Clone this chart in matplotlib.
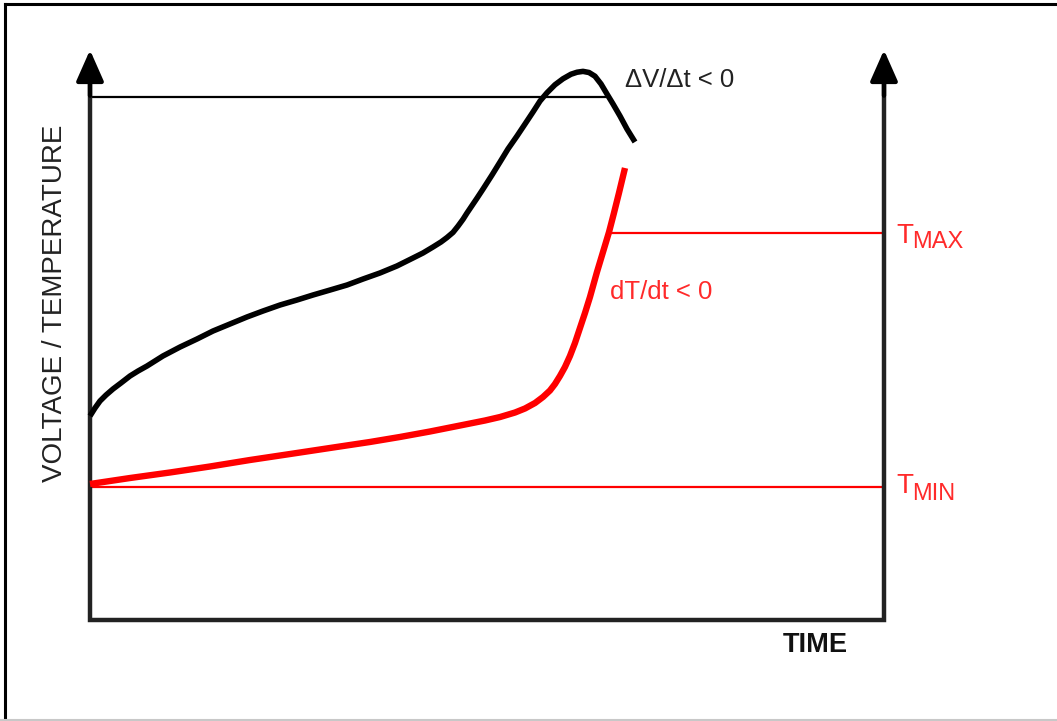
import matplotlib
matplotlib.use("Agg")
import matplotlib.pyplot as plt
from matplotlib.lines import Line2D

plt.rcParams['font.family'] = ['Liberation Sans', 'DejaVu Sans']

# ---- data (time units 0..100 across the axis, value units 0..100 up to arrow tip) ----
voltage_t = [0, 0.63, 1.26, 2.02, 2.90, 3.90, 5.04, 6.05, 7.18, 9.19, 11.34, 13.48,
             15.49, 17.63, 19.77, 21.79, 23.93, 26.07, 28.09, 30.23, 32.37, 34.38,
             36.52, 38.66, 40.68, 41.94, 43.20, 44.21, 44.96, 45.72, 46.35, 46.98,
             47.48, 48.11, 48.74, 49.50, 50.63, 51.64, 52.64, 53.78, 54.79, 55.79,
             56.68, 57.56, 58.56, 59.57, 60.58, 61.34, 62.09, 62.85, 63.60, 64.36,
             65.11, 65.87, 66.75, 67.63, 68.64]
voltage_v = [35.79, 37.19, 38.42, 39.47, 40.53, 41.58, 42.81, 43.68, 44.56, 46.32,
             47.89, 49.30, 50.70, 51.93, 53.16, 54.21, 55.26, 56.14, 57.02, 57.89,
             58.77, 59.82, 60.88, 62.11, 63.51, 64.39, 65.44, 66.32, 67.10, 68.00,
             69.10, 70.30, 71.40, 72.70, 74.00, 75.61, 78.07, 80.35, 82.63, 84.91,
             87.02, 89.12, 91.05, 92.50, 93.90, 94.95, 95.75, 96.10, 96.25, 96.05,
             95.40, 94.04, 92.28, 90.53, 88.42, 86.14, 83.86]

temp_t = [0, 5.04, 10.08, 15.11, 20.15, 25.19, 30.23, 35.26, 39.04, 42.82, 46.60,
          49.75, 51.64, 53.53, 54.79, 56.05, 57.05, 57.93, 58.56, 59.19, 59.82,
          60.45, 61.08, 61.71, 62.34, 62.97, 63.85, 64.61, 65.37, 65.99, 66.62, 67.38]
temp_v = [23.86, 24.91, 25.88, 26.93, 28.07, 29.12, 30.18, 31.23, 32.11, 33.07, 34.12,
          35.00, 35.61, 36.40, 37.11, 38.07, 39.12, 40.26, 41.40, 42.81, 44.39,
          46.32, 48.60, 51.23, 53.86, 56.67, 61.05, 64.56, 68.07, 71.40, 74.91, 79.30]

t_max_level = 67.9
t_min_level = 23.3
dv_level = 91.75
dv_line_end = 65.1
tmax_line_start = 65.3
axis_top = 100

# ---- figure ----
W, H = 1057, 721
fig = plt.figure(figsize=(W / 100, H / 100), dpi=100)
ax = fig.add_axes([0, 0, 1, 1])
px_per_t = 7.94
px_per_v = 5.7
ax.set_xlim(-90 / px_per_t, (W - 90) / px_per_t)
ax.set_ylim((620 - H) / px_per_v, 620 / px_per_v)
ax.axis('off')

# figure frame
fig.add_artist(Line2D([5 / W, 5 / W], [0, 1 - 4 / H], color='black', lw=2.2))
fig.add_artist(Line2D([5 / W, 1], [1 - 4 / H, 1 - 4 / H], color='black', lw=2.2))
fig.add_artist(Line2D([0, 1], [1 / H, 1 / H], color='#c8c8c8', lw=1.5))

axis_color = '#222222'
# axes (U shape)
ax.plot([0, 0, 100, 100], [axis_top - 6, 0, 0, axis_top - 6], color=axis_color,
        lw=3.2, solid_joinstyle='miter', solid_capstyle='butt', zorder=3)
for xa in (0, 100):
    ax.annotate('', xy=(xa, axis_top), xytext=(xa, axis_top - 8),
                arrowprops=dict(arrowstyle='-|>,head_length=0.95,head_width=0.42',
                                mutation_scale=20, color='black', lw=3.2,
                                shrinkA=0, shrinkB=0), zorder=4)

# reference lines
ax.plot([0, dv_line_end], [dv_level, dv_level], color='black', lw=1.6, zorder=2)
ax.plot([tmax_line_start, 100], [t_max_level, t_max_level], color='#ff0000', lw=1.6, zorder=2)
ax.plot([0, 100], [t_min_level, t_min_level], color='#ff0000', lw=1.6, zorder=2)

# curves
ax.plot(voltage_t, voltage_v, color='black', lw=4.0, solid_capstyle='butt',
        solid_joinstyle='round', zorder=5)
ax.plot(temp_t, temp_v, color='#ff0000', lw=4.6, solid_capstyle='butt',
        solid_joinstyle='round', zorder=5)

# texts
red_txt = '#ff2a2a'
ax.text(67.4, 94.7, 'ΔV/Δt < 0', fontsize=18.5, color='#222222', ha='left', va='center')
ax.text(65.5, 57.5, 'dT/dt < 0', fontsize=18.5, color=red_txt, ha='left', va='center')

ax.text(101.6, 66.1, 'T', fontsize=20, color=red_txt, ha='left', va='baseline')
ax.text(103.5, 65.2, 'MAX', fontsize=17, color=red_txt, ha='left', va='baseline')
ax.text(101.6, 22.3, 'T', fontsize=20, color=red_txt, ha='left', va='baseline')
ax.text(103.5, 21.1, 'MIN', fontsize=17, color=red_txt, ha='left', va='baseline')

ax.text(87.2, -5.6, 'TIME', fontsize=19.5, fontweight='bold', color='#111111',
        ha='left', va='baseline')
ax.text(-4.4, 55.5, 'VOLTAGE / TEMPERATURE', fontsize=20, color='#222222',
        rotation=90, ha='center', va='center')

fig.savefig('out.png', dpi=100)
